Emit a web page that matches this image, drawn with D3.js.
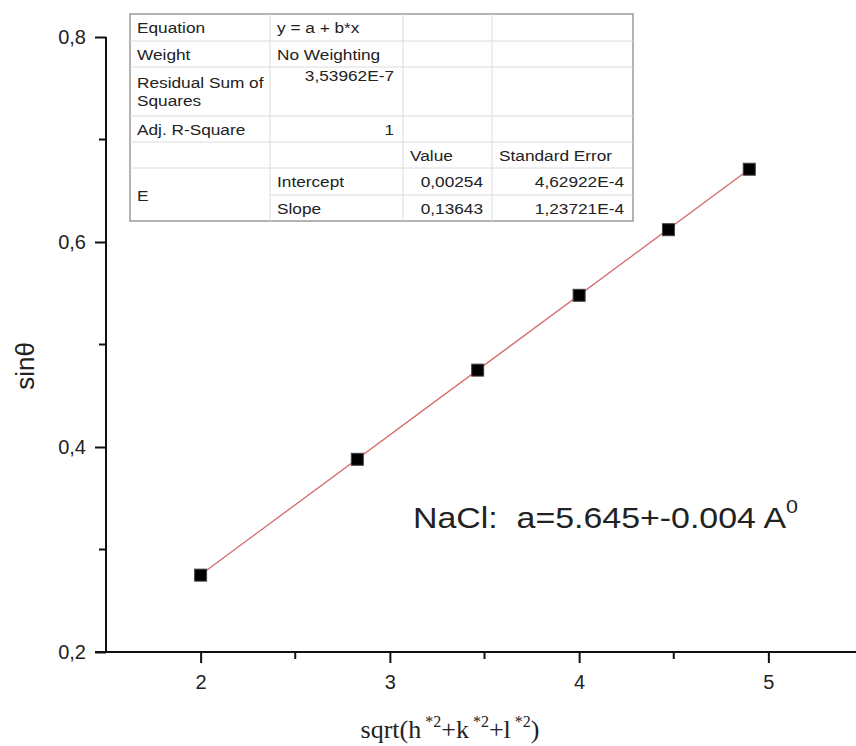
<!DOCTYPE html>
<html>
<head>
<meta charset="utf-8">
<script src="https://cdn.jsdelivr.net/npm/d3@7"></script>
<style>
  body { margin: 0; background: #fff; }
  svg { display: block; }
</style>
</head>
<body>
<svg id="canvas"></svg>
<script>
// measured points: sqrt(h^2+k^2+l^2) vs sin(theta)
let xValues = [2.0, 2.828, 3.464, 4.0, 4.472, 4.899]
let yValues = [0.275, 0.388, 0.475, 0.548, 0.612, 0.671]

// fit line end points
let fitX = [2.0, 4.899]
let fitY = [0.2754, 0.6709]

let xTicks = [2, 3, 4, 5]
let xMinor = [2.5, 3.5, 4.5]
let yTicks = [0.2, 0.4, 0.6, 0.8]
let yMinor = [0.3, 0.5, 0.7]

// fit table, '|' splits a cell into two lines
let tableRows = [
  ['Equation', 'y = a + b*x', '', ''],
  ['Weight', 'No Weighting', '', ''],
  ['Residual Sum of|Squares', '3,53962E-7', '', ''],
  ['Adj. R-Square', '1', '', ''],
  ['', '', 'Value', 'Standard Error'],
  ['E', 'Intercept', '0,00254', '4,62922E-4'],
  ['', 'Slope', '0,13643', '1,23721E-4']
]

let w = 856
let h = 746
let sans = 'Liberation Sans, Arial, sans-serif'

let canvas = d3.select('#canvas').attr('width', w).attr('height', h)

let xScale = d3.scaleLinear().domain([1.5, 5.5]).range([106, 863])
let yScale = d3.scaleLinear().domain([0.2, 0.8]).range([652, 37])

let comma = d3.formatLocale({decimal: ',', thousands: '.', grouping: [3], currency: ['', '']})

let drawAxes = () => {
  let xAxis = d3.axisBottom(xScale).tickValues(xTicks).tickSize(11).tickPadding(12)
    .tickFormat(d3.format('d'))
  let gx = canvas.append('g').attr('transform', 'translate(0,652)').call(xAxis)
  gx.append('g').selectAll('line').data(xMinor).enter().append('line')
    .attr('x1', d => xScale(d)).attr('x2', d => xScale(d))
    .attr('y1', 0).attr('y2', 7)

  let yAxis = d3.axisLeft(yScale).tickValues(yTicks).tickSize(11).tickPadding(9)
    .tickFormat(comma.format('.1f'))
  let gy = canvas.append('g').attr('transform', 'translate(106,0)').call(yAxis)
  gy.append('g').selectAll('line').data(yMinor).enter().append('line')
    .attr('y1', d => yScale(d)).attr('y2', d => yScale(d))
    .attr('x1', 0).attr('x2', -7)

  for (let g of [gx, gy]) {
    g.select('.domain').attr('stroke', '#111').attr('stroke-width', 2)
      .attr('d', g === gx ? 'M95,0H' + (w + 10) : 'M0,' + yScale(0.8) + 'V' + (yScale(0.2) + 1))
    g.selectAll('line').attr('stroke', '#111').attr('stroke-width', 2)
    g.selectAll('text').attr('font-family', sans)
      .attr('font-size', 20).attr('fill', '#222')
  }
}

let drawData = () => {
  canvas.append('line')
    .attr('x1', xScale(fitX[0])).attr('y1', yScale(fitY[0]))
    .attr('x2', xScale(fitX[1])).attr('y2', yScale(fitY[1]))
    .attr('stroke', '#d46a6a').attr('stroke-width', 1.3)

  let pts = xValues.map((x, i) => [x, yValues[i]])
  canvas.selectAll('rect.pt').data(pts).enter().append('rect')
    .attr('class', 'pt')
    .attr('x', d => xScale(d[0]) - 6)
    .attr('y', d => yScale(d[1]) - 6)
    .attr('width', 12).attr('height', 12)
    .attr('fill', '#000').attr('stroke', '#444').attr('stroke-width', 1)
}

let drawTable = () => {
  let colX = [130, 270, 403, 492, 633]
  let rowY = [14, 41, 67, 116, 142, 168, 195, 221]
  let t = canvas.append('g')
  t.append('rect').attr('x', colX[0]).attr('y', rowY[0])
    .attr('width', colX[4] - colX[0]).attr('height', rowY[7] - rowY[0])
    .attr('fill', '#fff').attr('stroke', '#9a9a9a').attr('stroke-width', 1.5)
  rowY.slice(1, 7).forEach((y, i) => {
    let start = (i === 5) ? colX[1] : colX[0]
    t.append('line').attr('x1', start).attr('x2', colX[4]).attr('y1', y).attr('y2', y)
      .attr('stroke', '#dcdcdc').attr('stroke-width', 1)
  })
  colX.slice(1, 4).forEach(x => {
    t.append('line').attr('x1', x).attr('x2', x).attr('y1', rowY[0]).attr('y2', rowY[7])
      .attr('stroke', '#dcdcdc').attr('stroke-width', 1)
  })

  let txt = (s, x, y, anchor) => t.append('text').text(s)
    .attr('transform', 'translate(' + x + ',' + y + ') scale(1.15,1)')
    .attr('text-anchor', anchor).attr('font-family', sans)
    .attr('font-size', 15).attr('fill', '#222')

  tableRows.forEach((row, r) => {
    row.forEach((cell, c) => {
      if (cell === '') return
      let mid = (rowY[r] + rowY[r + 1]) / 2
      let base = mid + 5.5
      if (r === 5 && c === 0) base = (rowY[5] + rowY[7]) / 2 + 6
      let lines = cell.split('|')
      if (lines.length > 1) base = mid - 4
      if (r === 2 && c === 1) base = rowY[2] + 14
      let right = (r >= 5 && c >= 2) || (r === 2 && c === 1) || (r === 3 && c === 1)
      lines.forEach((ln, k) => {
        if (right) txt(ln, colX[c + 1] - 9, base + k * 18, 'end')
        else txt(ln, colX[c] + 7, base + k * 18, 'start')
      })
    })
  })
}

let drawLabels = () => {
  canvas.append('text')
    .attr('transform', 'translate(34,366) rotate(-90)')
    .attr('text-anchor', 'middle')
    .attr('font-family', sans)
    .attr('font-size', 26).attr('fill', '#222')
    .text('sinθ')

  let xl = canvas.append('text')
    .attr('x', 450).attr('y', 738).attr('text-anchor', 'middle')
    .attr('font-family', 'Liberation Serif, Times New Roman, serif')
    .attr('font-size', 26).attr('fill', '#222')
  let parts = [['sqrt(h', 0], ['*2', 1], ['+k', 0], ['*2', 1], ['+l', 0], ['*2', 1], [')', 0]]
  parts.forEach((p, i) => {
    let dy = 0
    if (p[1]) dy = -11
    else if (i > 0 && parts[i - 1][1]) dy = 11
    xl.append('tspan').text(p[0])
      .attr('font-size', p[1] ? 16 : 26)
      .attr('dy', dy)
      .attr('dx', p[1] ? 4 : 0)
  })

  let nl = canvas.append('text')
    .attr('transform', 'translate(413,528) scale(1.13,1)')
    .attr('font-family', sans)
    .attr('font-size', 30).attr('fill', '#222')
    .attr('xml:space', 'preserve')
  nl.append('tspan').text('NaCl:  a=5.645+-0.004 A')
  nl.append('tspan').text('0').attr('font-size', 19).attr('dy', -15)
}

drawTable()
drawAxes()
drawData()
drawLabels()
</script>
</body>
</html>
